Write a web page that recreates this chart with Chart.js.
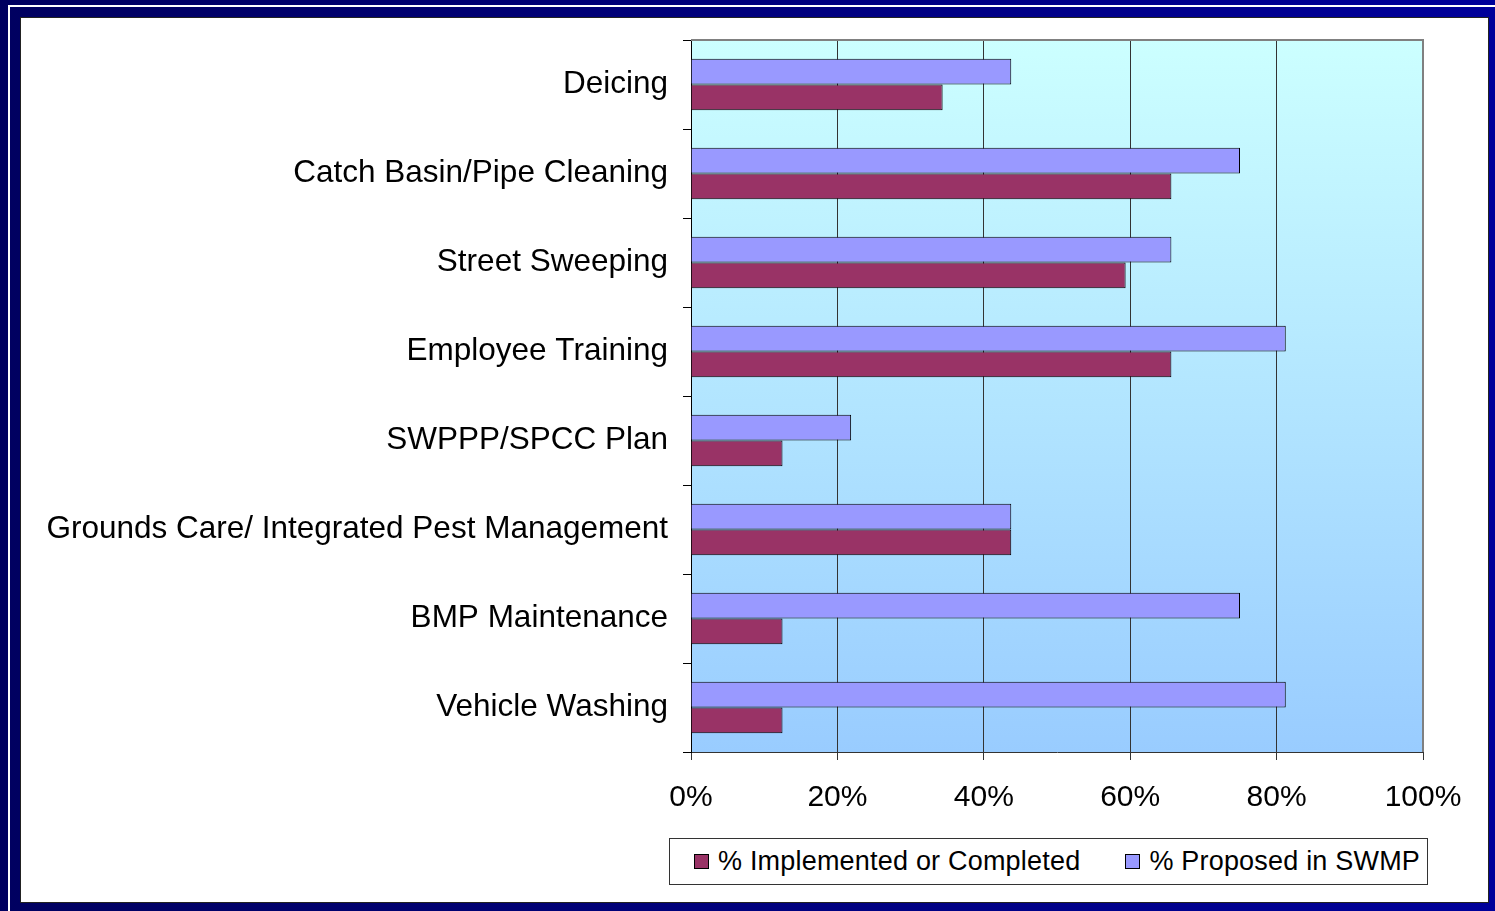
<!DOCTYPE html>
<html>
<head>
<meta charset="utf-8">
<script src="https://cdn.jsdelivr.net/npm/chart.js@4"></script>
<style>
    html, body { margin: 0; padding: 0; }
    body {
        width: 1495px; height: 911px; overflow: hidden; position: relative;
        background: linear-gradient(to right, #000060, #00009a);
        font-family: "Liberation Sans", Arial, sans-serif;
    }
    #linha_branca {
        position: absolute; left: 8px; top: 5px; width: 1500px; height: 920px;
        border: 2px solid #ffffff; box-sizing: border-box;
    }
    #quadro {
        position: absolute; left: 20px; top: 17px; width: 1469px; height: 886px;
        background: #ffffff; border: 1px solid #222; box-sizing: border-box;
    }
    #grafico { position: absolute; left: 0; top: 0; }
    #legenda {
        position: absolute; left: 669px; top: 838px; width: 759px; height: 47px;
        border: 1px solid #333; box-sizing: border-box; background: #fff;
        display: flex; align-items: center; padding-left: 24px;
        font-size: 27px; letter-spacing: 0.2px; color: #000; white-space: nowrap;
    }
    .item { display: flex; align-items: center; margin-right: 45px; }
    .quadrado { width: 15px; height: 15px; border: 1px solid #000; margin-right: 9px; box-sizing: border-box; }
</style>
</head>
<body>
<div id="linha_branca"></div>
<div id="quadro"></div>
<canvas id="grafico" width="1495" height="911"></canvas>
<div id="legenda"></div>

<script>
var categorias = ['Deicing', 'Catch Basin/Pipe Cleaning', 'Street Sweeping', 'Employee Training',
    'SWPPP/SPCC Plan', 'Grounds Care/ Integrated Pest Management', 'BMP Maintenance', 'Vehicle Washing'];
var proposto = [43.75, 75, 65.625, 81.25, 21.875, 43.75, 75, 81.25];
var implementado = [34.375, 65.625, 59.375, 65.625, 12.5, 43.75, 12.5, 12.5];
var ticks_x = [0, 20, 40, 60, 80, 100];

var cor_implementado = '#993366';
var cor_proposto = '#9999ff';

// fundo degrade e bordas da area do grafico
var fundo_plot = {
    id: 'fundo_plot',
    beforeDraw: function(chart) {
        var a = chart.chartArea;
        var ctx = chart.ctx;
        var g = ctx.createLinearGradient(0, a.top, 0, a.bottom);
        g.addColorStop(0, '#ccffff');
        g.addColorStop(1, '#99ccff');
        ctx.save();
        ctx.fillStyle = g;
        ctx.fillRect(a.left, a.top, a.right - a.left, a.bottom - a.top);
        ctx.restore();
    },
    beforeDatasetsDraw: function(chart) {
        var a = chart.chartArea;
        var ctx = chart.ctx;
        ctx.save();
        ctx.strokeStyle = '#808080';
        ctx.lineWidth = 2;
        ctx.beginPath();
        ctx.moveTo(a.left, a.top);
        ctx.lineTo(a.right, a.top);
        ctx.lineTo(a.right, a.bottom);
        ctx.stroke();
        ctx.restore();
    }
};

var data = {
    labels: categorias,
    datasets: [{
        label: '% Proposed in SWMP',
        data: proposto,
        backgroundColor: cor_proposto,
        borderColor: '#000',
        borderWidth: 1
    }, {
        label: '% Implemented or Completed',
        data: implementado,
        backgroundColor: cor_implementado,
        borderColor: '#000',
        borderWidth: 1
    }]
};

var ctx = document.getElementById('grafico');

new Chart(ctx, {
    type: 'bar',
    data: data,
    plugins: [fundo_plot],
    options: {
        indexAxis: 'y',
        responsive: false,
        animation: false,
        layout: { padding: { left: 0, right: 72, top: 40, bottom: 0 } },
        datasets: { bar: { categoryPercentage: 0.58, barPercentage: 1 } },
        plugins: { legend: { display: false }, tooltip: { enabled: false } },
        scales: {
            x: {
                min: 0, max: 100,
                afterBuildTicks: function(scale) {
                    scale.ticks = ticks_x.map(function(v) { return { value: v }; });
                },
                afterFit: function(scale) { scale.height = 159; },
                ticks: {
                    color: '#000',
                    padding: 20,
                    font: { family: 'Liberation Sans', size: 30 },
                    callback: function(v) { return v + '%'; }
                },
                grid: {
                    color: function(c) { return c.tick && c.tick.value == 100 ? 'rgba(0,0,0,0)' : '#333'; },
                    tickColor: '#333',
                    tickLength: 8
                },
                border: { color: '#333', width: 1 }
            },
            y: {
                afterFit: function(scale) { scale.width = 691; },
                ticks: {
                    color: '#000',
                    padding: 15,
                    font: { family: 'Liberation Sans', size: 31.5 }
                },
                grid: {
                    offset: true,
                    drawOnChartArea: false,
                    tickColor: '#000',
                    tickLength: 8
                },
                border: { color: '#000', width: 1 }
            }
        }
    }
});

// legenda feita em html
var legenda = document.getElementById('legenda');
var itens = [[data.datasets[1].label, cor_implementado], [data.datasets[0].label, cor_proposto]];
for (var i = 0; i < itens.length; i++) {
    legenda.innerHTML += `
        <div class="item">
            <div class="quadrado" style="background:${itens[i][1]}"></div>
            <span>${itens[i][0]}</span>
        </div>
    `;
}
</script>
</body>
</html>
